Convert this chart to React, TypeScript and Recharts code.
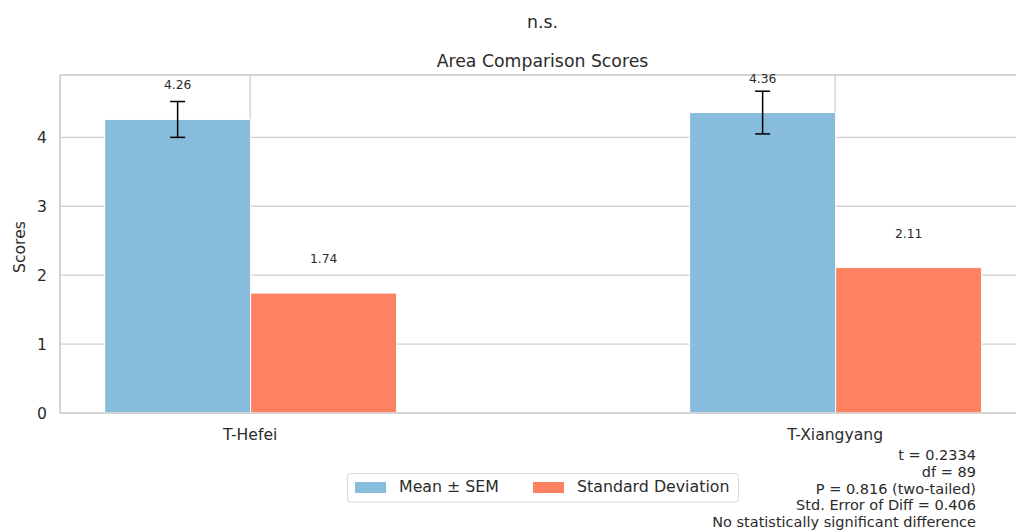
import React from 'react';
import {
  BarChart,
  Bar,
  XAxis,
  YAxis,
  CartesianGrid,
  ErrorBar,
  LabelList,
  ReferenceLine,
  Label,
} from 'recharts';

// Group labels and per-group statistics
const categories = ['T-Hefei', 'T-Xiangyang'];
const meanValues = [4.26, 4.36];
const semValues = [0.26, 0.31];
const sdValues = [1.74, 2.11];
const yTicks = [0, 1, 2, 3, 4];
const xTicks = [0, 1];

const seriesNames = ['Mean ± SEM', 'Standard Deviation'];
const seriesColors = ['#88bcdc', '#fc8261'];

const statLines = [
  't = 0.2334',
  'df = 89',
  'P = 0.816 (two-tailed)',
  'Std. Error of Diff = 0.406',
  'No statistically significant difference',
];

const data = categories.map((name, i) => ({
  pos: i,
  name,
  mean: meanValues[i],
  sem: semValues[i],
  sd: sdValues[i],
}));

const FONT = "'DejaVu Sans', 'Liberation Sans', sans-serif";
const TEXT = '#2b2b2b';
const SPINE = '#cccccc';
const Y_MAX = 4.905;
const X_DOMAIN: [number, number] = [-0.325, 1.325];

const ValueLabel = (props: any) => {
  const { x, y, width, value } = props;
  return (
    <text
      x={x + width / 2}
      y={y - 34}
      textAnchor="middle"
      dominantBaseline="central"
      fontSize={12.3}
      fill={TEXT}
      fontFamily={FONT}
    >
      {Number(value).toFixed(2)}
    </text>
  );
};

const YTitle = (props: any) => {
  const { viewBox } = props;
  const cx = viewBox.x + 20;
  const cy = viewBox.y + viewBox.height / 2 + 3;
  return (
    <text
      x={cx}
      y={cy}
      transform={`rotate(-90 ${cx} ${cy})`}
      textAnchor="middle"
      dominantBaseline="central"
      fontSize={15.6}
      fill={TEXT}
      fontFamily={FONT}
    >
      Scores
    </text>
  );
};

export default function App() {
  return (
    <div
      style={{
        position: 'absolute',
        left: 0,
        top: 0,
        width: 1016,
        height: 532,
        overflow: 'hidden',
        background: '#fff',
        fontFamily: FONT,
      }}
    >
      <BarChart
        width={1040}
        height={532}
        data={data}
        margin={{ top: 75, right: 14.75, bottom: 89, left: 0 }}
        barGap={0}
      >
        <CartesianGrid stroke="#d0d0d0" strokeWidth={1.3} />
        <XAxis
          dataKey="pos"
          type="number"
          domain={X_DOMAIN}
          ticks={xTicks}
          tickFormatter={(v: number) => categories[v] ?? ''}
          tickLine={false}
          tickSize={0}
          tickMargin={16}
          axisLine={{ stroke: SPINE, strokeWidth: 1.25 }}
          tick={{ fontSize: 15.6, fill: TEXT, fontFamily: FONT }}
          height={30}
          interval={0}
        />
        <YAxis
          type="number"
          domain={[0, Y_MAX]}
          ticks={yTicks}
          tickLine={false}
          tickSize={0}
          tickMargin={13}
          axisLine={{ stroke: SPINE, strokeWidth: 1.25 }}
          tick={{ fontSize: 15.6, fill: TEXT, fontFamily: FONT }}
          width={60}
        >
          <Label content={YTitle} />
        </YAxis>
        <ReferenceLine y={Y_MAX} stroke={SPINE} strokeWidth={1.25} ifOverflow="visible" />
        <Bar
          dataKey="mean"
          name={seriesNames[0]}
          fill={seriesColors[0]}
          stroke="#ffffff"
          strokeWidth={1}
          barSize={146}
          isAnimationActive={false}
        >
          <ErrorBar dataKey="sem" width={7.5} stroke="#000000" strokeWidth={1.5} />
          <LabelList dataKey="mean" content={ValueLabel} />
        </Bar>
        <Bar
          dataKey="sd"
          name={seriesNames[1]}
          fill={seriesColors[1]}
          stroke="#ffffff"
          strokeWidth={1}
          barSize={146}
          isAnimationActive={false}
        >
          <LabelList dataKey="sd" content={ValueLabel} />
        </Bar>
      </BarChart>

      <svg
        width={1016}
        height={532}
        style={{ position: 'absolute', left: 0, top: 0, pointerEvents: 'none' }}
        fontFamily={FONT}
      >
        <text x={542.5} y={22} textAnchor="middle" dominantBaseline="central" fontSize={17.3} fill={TEXT}>
          n.s.
        </text>
        <text x={542.5} y={61} textAnchor="middle" dominantBaseline="central" fontSize={17.3} fill={TEXT}>
          Area Comparison Scores
        </text>

        {/* legend */}
        <rect x={347.5} y={473.5} width={391} height={28.5} rx={3} fill="#ffffff" fillOpacity={0.8} stroke="#d9d9d9" strokeWidth={1} />
        {seriesNames.map((name, i) => {
          const sx = i === 0 ? 355 : 533;
          return (
            <g key={name}>
              <rect x={sx} y={482} width={31} height={11} fill={seriesColors[i]} />
              <text x={sx + 44} y={486} dominantBaseline="central" fontSize={15.8} fill={TEXT}>
                {name}
              </text>
            </g>
          );
        })}

        {/* t-test summary */}
        {statLines.map((line, i) => (
          <text
            key={line}
            x={976}
            y={455 + i * 16.8}
            textAnchor="end"
            dominantBaseline="central"
            fontSize={14.5}
            fill={TEXT}
          >
            {line}
          </text>
        ))}
      </svg>
    </div>
  );
}
